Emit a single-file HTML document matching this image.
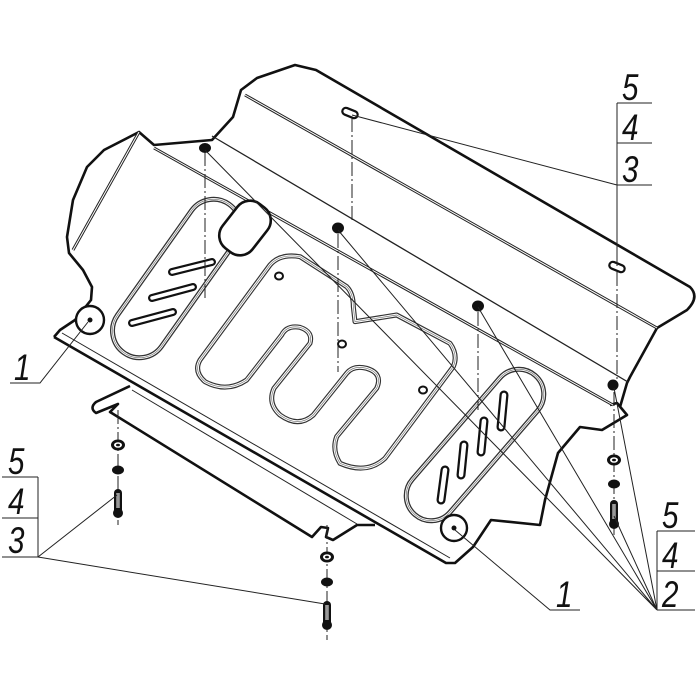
<!DOCTYPE html>
<html><head><meta charset="utf-8"><style>
html,body{margin:0;padding:0;background:#fff;}
svg{display:block;}
.t{font-family:"Liberation Sans",sans-serif;font-style:italic;font-size:37px;fill:#111;}
</style></head><body>
<svg width="700" height="700" viewBox="0 0 700 700" xmlns="http://www.w3.org/2000/svg">
<defs>
<g id="washer"><ellipse rx="7" ry="5.5" fill="#111"/><ellipse rx="4" ry="2.8" fill="#fff"/><ellipse rx="2" ry="1.3" fill="#111"/></g>
<g id="nut"><ellipse rx="6" ry="4.5" fill="#111"/></g>
<g id="bolt"><rect x="-4" y="0" width="8" height="26" rx="4" fill="#111"/><rect x="-1.8" y="4" width="3.6" height="15" fill="#999"/><ellipse cx="0" cy="24" rx="5" ry="5" fill="#111"/></g>
</defs>

<path d="M54,337 L60,330 L75,320 L91,300 L92,287 L83,270 L69,253 L67,237 L73,200 L87,167 L104,150 L139,132 L154,145 L212,140 L233,117 L241,90 L257,78 L295,65 L316,70 L690,287 Q700,297 687,310 L657,328 L630,377 L627,383 L620,407"
 fill="none" stroke="#111" stroke-width="2.6" stroke-linejoin="round"/>
<path d="M610,405 L617,403 L627,415 L602,430 L580,427 L558,453 L545,500 L540,525 L491,520 L473,547 L455,563 L446,563 L54,337"
 fill="none" stroke="#111" stroke-width="2.6" stroke-linejoin="round"/>
<path d="M62,333 L450,558" stroke="#222" stroke-width="1" fill="none"/>
<path d="M130,386 L96,402 Q89,408 96,413 L118,404 L110,412 L312,537 L321,527 L328,528 L326,537 L333,540 L357,525 L375,525"
 fill="none" stroke="#111" stroke-width="2.6" stroke-linejoin="round"/>
<path d="M132,390 L357,524" stroke="#222" stroke-width="1" fill="none"/>

<path d="M245,95 L657,328" stroke="#222" stroke-width="3" fill="none"/>
<path d="M245,95 L657,328" stroke="#fff" stroke-width="1" fill="none"/>
<path d="M212,136 L628,382" stroke="#222" stroke-width="1.3" fill="none"/>
<path d="M154,148 L613,405" stroke="#222" stroke-width="3" fill="none"/>
<path d="M154,148 L613,405" stroke="#fff" stroke-width="1" fill="none"/>
<path d="M139,132 L73,250" stroke="#222" stroke-width="3" fill="none"/>
<path d="M139,132 L73,250" stroke="#fff" stroke-width="1" fill="none"/>

<g transform="translate(176.5,278.5) rotate(-54.7)">
<rect x="-91" y="-27" width="182" height="54" rx="27" fill="none" stroke="#333" stroke-width="5"/>
<rect x="-91" y="-27" width="182" height="54" rx="27" fill="none" stroke="#fff" stroke-width="2.4"/>
<rect x="-91" y="-27" width="182" height="54" rx="27" fill="none" stroke="#777" stroke-width="0.7"/>
</g>
<g fill="none" stroke="#111">
<path d="M172,272 L212,262" stroke-width="8" stroke-linecap="round"/>
<path d="M152,298 L193,287" stroke-width="8" stroke-linecap="round"/>
<path d="M132,323 L173,312" stroke-width="8" stroke-linecap="round"/>
</g>
<g stroke="#fff" stroke-width="3.5" stroke-linecap="round">
<path d="M172,272 L212,262"/><path d="M152,298 L193,287"/><path d="M132,323 L173,312"/>
</g>
<rect x="-19" y="-28" width="38" height="56" rx="16" transform="translate(245,228) rotate(38)" fill="#fff" stroke="#111" stroke-width="2.6"/>

<g transform="translate(180,240) scale(0.3333)" fill="none" stroke-linejoin="round">
<path d="M60,360 L270,75 Q300,40 360,50 L500,140 Q520,160 520,200 L525,245 L650,225 L810,310 Q835,345 820,380 L615,655 Q560,705 480,670 Q455,630 470,590 L590,445 Q610,400 560,385 Q520,375 500,400 L400,525 Q355,565 300,525 Q262,490 282,445 L390,310 Q400,275 360,262 Q320,255 305,285 L200,420 Q140,460 75,425 Q40,395 60,360 Z" stroke="#333" stroke-width="15"/>
<path d="M60,360 L270,75 Q300,40 360,50 L500,140 Q520,160 520,200 L525,245 L650,225 L810,310 Q835,345 820,380 L615,655 Q560,705 480,670 Q455,630 470,590 L590,445 Q610,400 560,385 Q520,375 500,400 L400,525 Q355,565 300,525 Q262,490 282,445 L390,310 Q400,275 360,262 Q320,255 305,285 L200,420 Q140,460 75,425 Q40,395 60,360 Z" stroke="#fff" stroke-width="8"/>
<path d="M60,360 L270,75 Q300,40 360,50 L500,140 Q520,160 520,200 L525,245 L650,225 L810,310 Q835,345 820,380 L615,655 Q560,705 480,670 Q455,630 470,590 L590,445 Q610,400 560,385 Q520,375 500,400 L400,525 Q355,565 300,525 Q262,490 282,445 L390,310 Q400,275 360,262 Q320,255 305,285 L200,420 Q140,460 75,425 Q40,395 60,360 Z" stroke="#777" stroke-width="2"/>
</g>

<g transform="translate(475,445) rotate(-49.2)">
<rect x="-92" y="-25" width="184" height="50" rx="25" fill="none" stroke="#333" stroke-width="5"/>
<rect x="-92" y="-25" width="184" height="50" rx="25" fill="none" stroke="#fff" stroke-width="2.4"/>
<rect x="-92" y="-25" width="184" height="50" rx="25" fill="none" stroke="#777" stroke-width="0.7"/>
</g>
<g stroke="#111" stroke-width="9" stroke-linecap="round">
<path d="M445,470 L441,500"/><path d="M464,445 L461,475"/><path d="M484,421 L481,452"/><path d="M504,395 L501,427"/>
</g>
<g stroke="#fff" stroke-width="4.5" stroke-linecap="round">
<path d="M445,470 L441,500"/><path d="M464,445 L461,475"/><path d="M484,421 L481,452"/><path d="M504,395 L501,427"/>
</g>

<g fill="#fff" stroke="#111" stroke-width="2">
<ellipse cx="279" cy="276" rx="4" ry="3.5"/>
<ellipse cx="342" cy="344" rx="4" ry="3.5"/>
<ellipse cx="423" cy="390" rx="4" ry="3.5"/>
</g>
<circle cx="90" cy="320" r="14" fill="#fff" stroke="#111" stroke-width="2.4"/>
<circle cx="90" cy="320" r="2.5" fill="#111"/>
<circle cx="454" cy="528" r="13" fill="#fff" stroke="#111" stroke-width="2.4"/>
<circle cx="454" cy="528" r="2.5" fill="#111"/>

<g fill="#111">
<ellipse cx="205" cy="148" rx="6" ry="5"/>
<ellipse cx="338" cy="228" rx="6" ry="5.5"/>
<ellipse cx="478" cy="306" rx="6" ry="5.5"/>
<ellipse cx="613" cy="385" rx="5.5" ry="5.5"/>
</g>
<g fill="#fff" stroke="#111" stroke-width="2.2">
<rect x="-8" y="-3.5" width="16" height="7" rx="3.5" transform="translate(350,113) rotate(22)"/>
<rect x="-8" y="-3.5" width="16" height="7" rx="3.5" transform="translate(617,267) rotate(22)"/>
</g>

<g stroke="#222" stroke-width="1" stroke-dasharray="14,3,2,3" fill="none">
<path d="M205,152 L205,300"/>
<path d="M352,118 L352,222"/>
<path d="M338,234 L338,372"/>
<path d="M478,312 L478,410"/>
<path d="M617,272 L617,380"/>
<path d="M614,392 L614,535"/>
<path d="M118,410 L118,525"/>
<path d="M327,525 L327,640"/>
</g>

<use href="#washer" x="118" y="445"/><use href="#nut" x="118" y="470"/><use href="#bolt" x="118" y="489"/>
<use href="#washer" x="327" y="557"/><use href="#nut" x="327" y="582"/><use href="#bolt" x="327" y="601"/>
<use href="#washer" x="614" y="460"/><use href="#nut" x="614" y="484"/><use href="#bolt" x="614" y="500"/>

<g stroke="#222" stroke-width="1" fill="none">
<path d="M2,477 H38 M2,518 H38 M2,557 H38 M38,477 V557"/>
<path d="M38,557 L117,495 M38,557 L325,604"/>
<path d="M617,103 H652 M617,143 H652 M617,185 H652 M617,103 V185"/>
<path d="M617,185 L352,115 M617,185 L617,266"/>
<path d="M657,531 H695 M657,571 H695 M657,610 H695 M657,531 V610"/>
<path d="M657,610 L205,150 M657,610 L338,230 M657,610 L478,307 M657,610 L614,516 M657,610 L614,388"/>
<path d="M10,383 H40 L88,322"/>
<path d="M580,610 H550 L455,530"/>
</g>
<g class="t">
<text x="8" y="474" transform="translate(8,0) scale(0.8,1) translate(-8,0)">5</text>
<text x="8" y="514" transform="translate(8,0) scale(0.8,1) translate(-8,0)">4</text>
<text x="8" y="553" transform="translate(8,0) scale(0.8,1) translate(-8,0)">3</text>
<text x="622" y="100" transform="translate(622,0) scale(0.8,1) translate(-622,0)">5</text>
<text x="622" y="140" transform="translate(622,0) scale(0.8,1) translate(-622,0)">4</text>
<text x="622" y="182" transform="translate(622,0) scale(0.8,1) translate(-622,0)">3</text>
<text x="662" y="528" transform="translate(662,0) scale(0.8,1) translate(-662,0)">5</text>
<text x="662" y="568" transform="translate(662,0) scale(0.8,1) translate(-662,0)">4</text>
<text x="662" y="607" transform="translate(662,0) scale(0.8,1) translate(-662,0)">2</text>
<text x="14" y="380" transform="translate(14,0) scale(0.8,1) translate(-14,0)">1</text>
<text x="556" y="607" transform="translate(556,0) scale(0.8,1) translate(-556,0)">1</text>
</g>
</svg>
</body></html>
